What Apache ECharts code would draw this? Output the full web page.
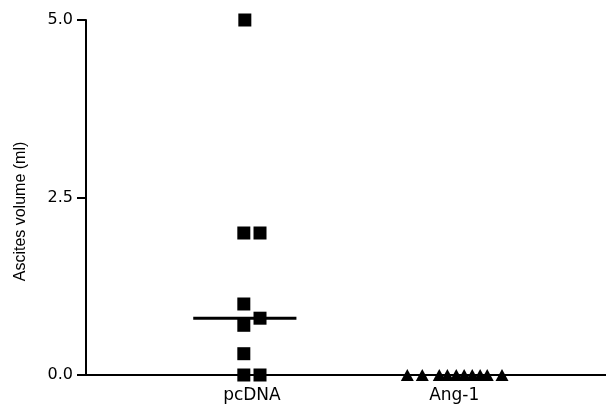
<!DOCTYPE html>
<html>
<head>
<meta charset="utf-8">
<script src="https://cdn.jsdelivr.net/npm/echarts@6/dist/echarts.min.js"></script>
<style>html,body{margin:0;padding:0;background:#fff}#c{width:606px;height:405px}</style>
</head>
<body>
<div id="c"></div>
<script>
const categories = ['pcDNA', 'Ang-1'];
const pcdnaValues = [5.0, 2.0, 2.0, 1.0, 0.8, 0.7, 0.3, 0, 0];
const pcdnaJitter = [-0.035, -0.04, 0.04, -0.04, 0.04, -0.04, -0.04, -0.04, 0.04];
const ang1Values = [0, 0, 0, 0, 0, 0, 0, 0, 0, 0];
const ang1Jitter = [-0.232, -0.158, -0.074, -0.034, 0.010, 0.049, 0.089, 0.128, 0.163, 0.236];
const medians = [0.8, 0];
const medianSpan = [[-0.29, 0.22], [-0.27, 0.27]];
const yTicks = [0, 2.5, 5.0];

const font = 'Liberation Sans, Arial, sans-serif';
const chart = echarts.init(document.getElementById('c'));
chart.setOption({
  animation: false,
  backgroundColor: '#fff',
  grid: { left: 86, right: 0, top: 20, bottom: 30 },
  xAxis: {
    type: 'value', min: 0.18, max: 2.75,
    axisLine: { lineStyle: { color: '#000', width: 2 } },
    axisTick: { show: false },
    splitLine: { show: false },
    axisLabel: {
      customValues: [1, 2],
      formatter: v => categories[Math.round(v) - 1],
      color: '#000', fontFamily: 'DejaVu Sans, sans-serif', fontSize: 17, margin: 12
    }
  },
  yAxis: {
    type: 'value', min: 0, max: 5, interval: 2.5,
    name: 'Ascites volume (ml)', nameLocation: 'middle', nameGap: 57,
    nameTextStyle: { color: '#000', fontFamily: font, fontSize: 16, padding: [0, 28, 0, 0] },
    axisLine: { show: true, lineStyle: { color: '#000', width: 2 } },
    axisTick: { show: true, length: 9, lineStyle: { color: '#000', width: 2 },
      customValues: yTicks },
    splitLine: { show: false },
    axisLabel: {
      customValues: yTicks,
      formatter: v => v.toFixed(1),
      color: '#000', fontFamily: 'DejaVu Sans, sans-serif', fontSize: 16, margin: 13
    }
  },
  series: [
    {
      type: 'scatter', symbol: 'rect', symbolSize: [13, 13],
      itemStyle: { color: '#000', opacity: 1 },
      data: pcdnaValues.map((v, i) => [1 + pcdnaJitter[i], v]), z: 5
    },
    {
      type: 'scatter', symbol: 'triangle', symbolSize: [13, 12],
      itemStyle: { color: '#000', opacity: 1 },
      data: ang1Values.map((v, i) => [2 + ang1Jitter[i], v]), z: 5
    },
    {
      type: 'line', symbol: 'none', lineStyle: { color: '#000', width: 3 },
      data: [[1 + medianSpan[0][0], medians[0]], [1 + medianSpan[0][1], medians[0]]], z: 4
    }
  ]
});
</script>
</body>
</html>
